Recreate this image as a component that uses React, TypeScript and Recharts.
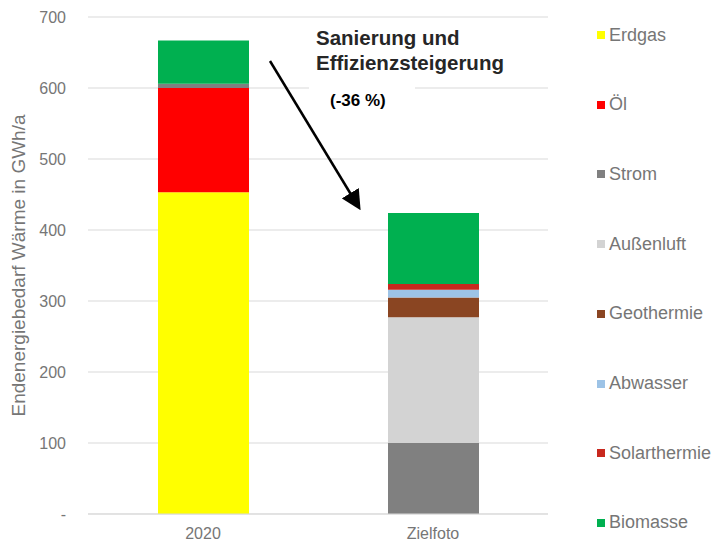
import { BarChart, Bar, XAxis, YAxis, CartesianGrid } from "recharts";

const categories = ["2020", "Zielfoto"];

const seriesNames = [
  "Erdgas",
  "Öl",
  "Strom",
  "Außenluft",
  "Geothermie",
  "Abwasser",
  "Solarthermie",
  "Biomasse",
];

// values per series: [2020, Zielfoto] in GWh/a
const erdgas = [453, 0];
const oel = [147, 0];
const strom = [6, 100];
const aussenluft = [0, 177];
const geothermie = [0, 28];
const abwasser = [0, 11];
const solarthermie = [0, 8];
const biomasse = [61, 100];

const yTicks = [0, 100, 200, 300, 400, 500, 600, 700];

const seriesValues = [erdgas, oel, strom, aussenluft, geothermie, abwasser, solarthermie, biomasse];

const COLORS: Record<string, string> = {
  Erdgas: "#FFFF00",
  "Öl": "#FF0000",
  Strom: "#808080",
  "Außenluft": "#D3D3D3",
  Geothermie: "#8A4522",
  Abwasser: "#9DC3E6",
  Solarthermie: "#C8281E",
  Biomasse: "#00B050",
};

const FONT = "'Liberation Sans', Arial, sans-serif";

const data = categories.map((cat, i) => {
  const row: Record<string, string | number> = { name: cat };
  seriesNames.forEach((s, j) => {
    row[s] = seriesValues[j][i];
  });
  return row;
});

export default function App() {
  return (
    <div style={{ position: "absolute", left: 0, top: 0, width: 711, height: 544, background: "#fff" }}>
      <BarChart
        width={711}
        height={544}
        data={data}
        margin={{ top: 17, right: 163, left: 0, bottom: 0 }}
      >
        <CartesianGrid vertical={false} stroke="#D9D9D9" />
        <XAxis
          dataKey="name"
          height={30}
          tickLine={false}
          tickSize={0}
          tickMargin={14}
          axisLine={{ stroke: "#D9D9D9" }}
          tick={{ fill: "#767676", fontSize: 16, fontFamily: FONT }}
        />
        <YAxis
          width={88}
          domain={[0, 700]}
          ticks={yTicks}
          tickFormatter={(v: number) => (v === 0 ? "-" : String(v))}
          axisLine={false}
          tickLine={false}
          tickSize={0}
          tickMargin={22}
          tick={{ fill: "#767676", fontSize: 16, fontFamily: FONT }}
          label={{
            value: "Endenergiebedarf Wärme in GWh/a",
            angle: -90,
            position: "insideLeft",
            offset: 18,
            style: { textAnchor: "middle", fill: "#767676", fontSize: 19, fontFamily: FONT },
          }}
        />
        {seriesNames.map((s) => (
          <Bar
            key={s}
            dataKey={s}
            stackId="a"
            fill={COLORS[s]}
            barSize={91}
            isAnimationActive={false}
          />
        ))}
      </BarChart>

      {/* annotation: arrow and text */}
      <svg
        width={711}
        height={544}
        style={{ position: "absolute", left: 0, top: 0, pointerEvents: "none" }}
      >
        <defs>
          <marker id="arrowHead" markerWidth="8" markerHeight="8" refX="6" refY="4" orient="auto">
            <path d="M0,0 L8,4 L0,8 z" fill="#000" />
          </marker>
        </defs>
        <rect x={309} y={80} width={106} height={40} fill="#fff" />
        <line x1={270} y1={61} x2={358} y2={206} stroke="#000" strokeWidth={2.5} markerEnd="url(#arrowHead)" />
        <text x={316} y={45} fontSize={20.5} fontWeight="bold" fill="#262626" fontFamily={FONT}>
          Sanierung und
        </text>
        <text x={316} y={70} fontSize={20.5} fontWeight="bold" fill="#262626" fontFamily={FONT}>
          Effizienzsteigerung
        </text>
        <text x={330} y={106} fontSize={17} fontWeight="bold" fill="#000" fontFamily={FONT}>
          (-36 %)
        </text>
      </svg>

      {/* legend */}
      {seriesNames.map((s, i) => (
        <div
          key={s}
          style={{
            position: "absolute",
            left: 597,
            top: 35 + i * 69.7 - 11,
            height: 22,
            display: "flex",
            alignItems: "center",
            fontFamily: FONT,
            fontSize: 18,
            color: "#767676",
            whiteSpace: "nowrap",
          }}
        >
          <span style={{ display: "inline-block", width: 8, height: 8, background: COLORS[s], marginRight: 4 }} />
          {s}
        </div>
      ))}
    </div>
  );
}
